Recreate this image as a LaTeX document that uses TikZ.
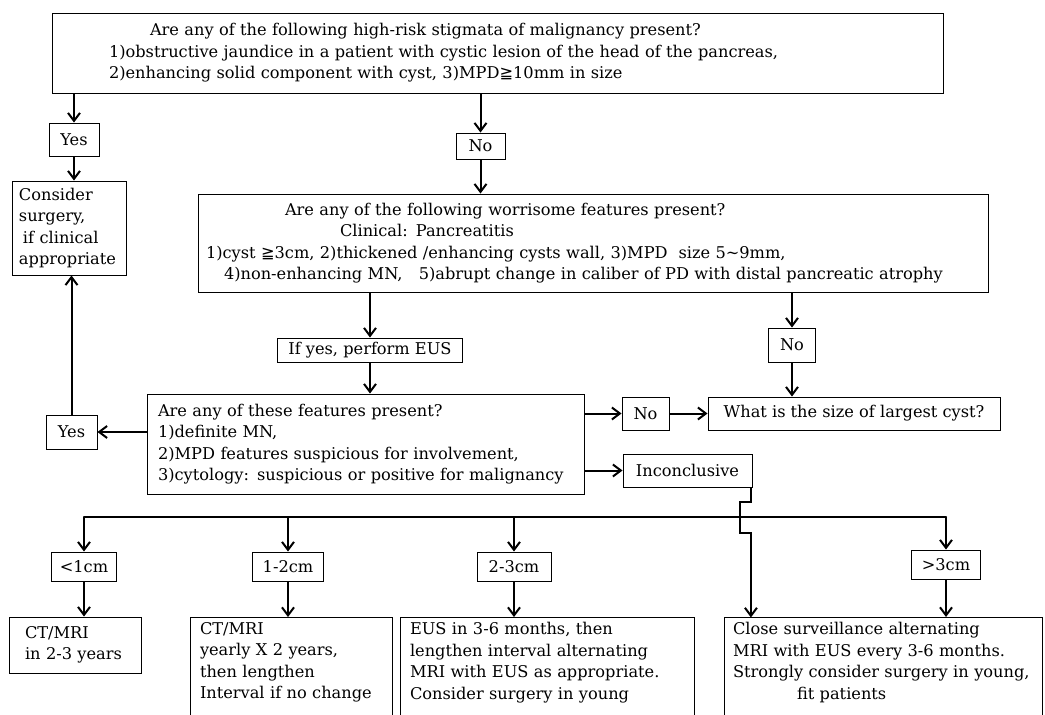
\documentclass[tikz,border=0pt]{standalone}
\usepackage{fontspec}
\setmainfont{DejaVu Serif}
\newfontfamily\symfnt{DejaVu Sans}
\usetikzlibrary{arrows.meta}
\newcommand{\txtfont}{\fontsize{16.2}{21.5}\selectfont}
\newcommand{\geqs}{{\symfnt ≧}}

\begin{document}
\begin{tikzpicture}[x=1pt,y=-1pt,
    box/.style={draw,line width=0.9pt,inner sep=0pt,font=\txtfont},
    txtbox/.style={box,align=left,text width=#1},
    cutbox/.style={box,align=left,text width=#1,anchor=north,inner ysep=5pt,text depth=110pt},
    arr/.style={line width=2pt,-{Straight Barb[length=8pt,width=12pt]}},
    bus/.style={line width=2pt}]
    \path[use as bounding box,fill=white] (0,0) rectangle (1045,715);

    \node[txtbox=777pt,minimum width=891pt,minimum height=80pt] (risk) at (497.5,53)
        {\hspace*{41pt}Are any of the following high-risk stigmata of malignancy present?\\
         1)obstructive jaundice in a patient with cystic lesion of the head of the pancreas,\\
         2)enhancing solid component with cyst,\ 3)MPD\geqs10mm in size};
    \node[box,minimum width=50pt,minimum height=33pt] (yes1) at (74,139.5) {Yes};
    \node[box,minimum width=49pt,minimum height=26pt] (no1) at (480.5,146) {No};
    \node[txtbox=100pt,minimum width=114pt,minimum height=94pt] (cons) at (69,228)
        {Consider\\surgery,\\\hspace*{4pt}if clinical\\appropriate};
    \node[txtbox=774pt,minimum width=790pt,minimum height=98pt] (wf) at (593,243)
        {\hspace*{79pt}Are any of the following worrisome features present?\\
         \hspace*{134pt}Clinical: Pancreatitis\\
         1)cyst \geqs3cm,\ 2)thickened /enhancing cysts wall,\ 3)MPD\ \ size 5\textasciitilde9mm,\\
         \hspace*{18pt}4)non-enhancing MN,\ \ \ 5)abrupt change in caliber of PD with distal pancreatic atrophy};
    \node[box,minimum width=185pt,minimum height=24pt] (eus) at (370,350) {If yes, perform EUS};
    \node[box,minimum width=47pt,minimum height=34pt] (no2) at (792,345) {No};
    \node[txtbox=415pt,minimum width=437pt,minimum height=100pt] (feat) at (365.5,444)
        {Are any of these features present?\\
         1)definite MN,\\
         2)MPD features suspicious for involvement,\\
         3)cytology: suspicious or positive for malignancy};
    \node[box,minimum width=51pt,minimum height=34pt] (yes2) at (71.5,432) {Yes};
    \node[box,minimum width=47pt,minimum height=33pt] (no3) at (645.5,413.5) {No};
    \node[box,minimum width=292pt,minimum height=33pt] (what) at (854,413.5) {What is the size of largest cyst?};
    \node[box,minimum width=129pt,minimum height=33pt] (incon) at (687.5,470.5) {Inconclusive};

    \node[box,minimum width=65pt,minimum height=29pt] (lt1) at (84,566.5) {<1cm};
    \node[box,minimum width=71pt,minimum height=29pt] (r12) at (288,566.5) {1-2cm};
    \node[box,minimum width=74pt,minimum height=29pt] (r23) at (514,566.5) {2-3cm};
    \node[box,minimum width=69pt,minimum height=29pt] (g3) at (946,564.5) {>3cm};
    \node[txtbox=100pt,minimum width=132pt,minimum height=56pt] (ct1) at (75,645)
        {CT/MRI\\in 2-3 years};
    \node[cutbox=182pt,minimum width=202pt] (ct2) at (291,617)
        {CT/MRI\\yearly X 2 years,\\then lengthen\\Interval if no change};
    \node[cutbox=274pt,minimum width=294pt] (eus2) at (547,617)
        {EUS in 3-6 months, then\\lengthen interval alternating\\MRI with EUS as appropriate.\\Consider surgery in young};
    \node[cutbox=300pt,minimum width=318pt] (close) at (883,617)
        {Close surveillance alternating\\MRI with EUS every 3-6 months.\\Strongly consider surgery in young,\\\hspace*{64pt}fit patients};

    \coordinate (busy) at (0,517);

    \draw[arr] (risk.south -| yes1) -- (yes1);
    \draw[arr] (risk.south -| no1) -- (no1);
    \draw[arr] (yes1.south) -- (yes1.south |- cons.north);
    \draw[arr] (no1) -- (no1 |- wf.north);
    \draw[arr] (wf.south -| eus) -- (eus);
    \draw[arr] (wf.south -| no2) -- (no2);
    \draw[arr] (eus) -- (eus |- feat.north);
    \draw[arr] (no2) -- (no2 |- what.north);
    \draw[arr] (feat.west |- yes2) -- (yes2);
    \draw[arr] (yes2) -- (yes2 |- cons.south);
    \draw[arr] (feat.east |- no3) -- (no3);
    \draw[arr] (no3) -- (what);
    \draw[arr] (feat.east |- incon) -- (incon);

    \draw[bus,line cap=round] (lt1 |- busy) -- (g3 |- busy);
    \foreach \n in {lt1,r12,r23,g3}
        \draw[arr] (\n |- busy) -- (\n);
    \draw[arr] (lt1) -- (lt1 |- ct1.north);
    \draw[arr] (r12) -- (r12 |- ct2.north);
    \draw[arr] (r23) -- (r23 |- eus2.north);
    \draw[arr] (g3) -- (g3 |- close.north);
    \draw[arr] ([xshift=-1.5pt]incon.south east) -- ++(0,15) -- ++(-11,0) -- ++(0,31) -- ++(11,0) -- ++(0,84);
\end{tikzpicture}
\end{document}
